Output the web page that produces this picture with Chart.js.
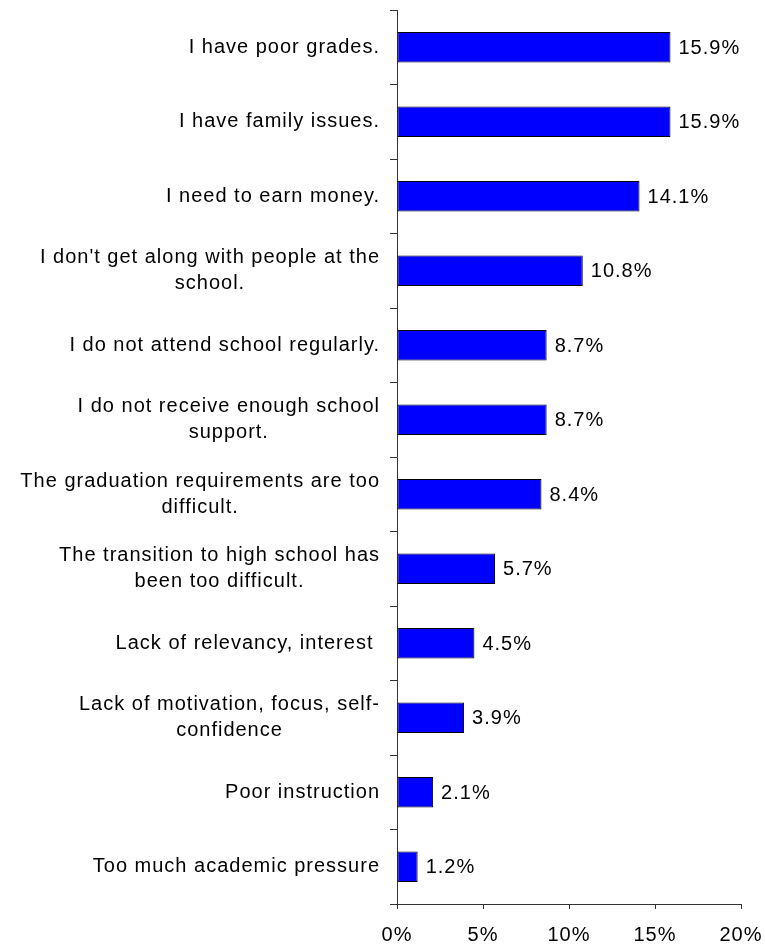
<!DOCTYPE html>
<html>
<head>
<meta charset="utf-8">
<script src="https://cdn.jsdelivr.net/npm/chart.js@4.4.1/dist/chart.umd.min.js"></script>
<style>
  html, body { margin: 0; padding: 0; background: #fff; overflow: hidden; }
  #wrap { width: 765px; height: 948px; position: relative; }
</style>
</head>
<body>
<div id="wrap"><canvas id="c"></canvas></div>
<script>
const categories = [
  ["I have poor grades."],
  ["I have family issues."],
  ["I need to earn money."],
  ["I don't get along with people at the", "school."],
  ["I do not attend school regularly."],
  ["I do not receive enough school", "support."],
  ["The graduation requirements are too", "difficult."],
  ["The transition to high school has", "been too difficult."],
  ["Lack of relevancy, interest "],
  ["Lack of motivation, focus, self-", "confidence"],
  ["Poor instruction"],
  ["Too much academic pressure"]
];
const values = [15.9, 15.9, 14.1, 10.8, 8.7, 8.7, 8.4, 5.7, 4.5, 3.9, 2.1, 1.2];
const valueLabels = ["15.9%", "15.9%", "14.1%", "10.8%", "8.7%", "8.7%", "8.4%", "5.7%", "4.5%", "3.9%", "2.1%", "1.2%"];
const xTickValues = [0, 5, 10, 15, 20];

const FONT = '20px "Liberation Sans", Arial, sans-serif';
const LINE_H = 26.3;

const labelPlugin = {
  id: 'customLabels',
  beforeDraw(chart) {
    chart.ctx.letterSpacing = '1px';
  },
  afterDatasetsDraw(chart) {
    const ctx = chart.ctx;
    const yScale = chart.scales.y;
    const meta = chart.getDatasetMeta(0);
    ctx.save();
    ctx.letterSpacing = '1px';
    ctx.font = FONT;
    ctx.fillStyle = '#000';
    ctx.textBaseline = 'alphabetic';
    const rightEdge = chart.chartArea.left - 17;
    categories.forEach((lines, i) => {
      const c = yScale.getPixelForValue(i);
      let maxW = 0;
      lines.forEach(l => { maxW = Math.max(maxW, ctx.measureText(l).width); });
      const cx = rightEdge - maxW / 2;
      ctx.textAlign = 'center';
      lines.forEach((l, k) => {
        const y = c - (lines.length - 1) * LINE_H / 2 + k * LINE_H + 5.5;
        ctx.fillText(l, cx, y);
      });
    });
    ctx.textAlign = 'left';
    meta.data.forEach((bar, i) => {
      ctx.fillText(valueLabels[i], bar.x + 8, bar.y + 6.5);
    });
    ctx.restore();
  }
};

new Chart(document.getElementById('c'), {
  type: 'bar',
  data: {
    labels: categories,
    datasets: [{
      data: values,
      backgroundColor: '#0000FF',
      borderColor: '#000000',
      borderWidth: 1,
      borderSkipped: false,
      categoryPercentage: 1,
      barPercentage: 0.41
    }]
  },
  options: {
    indexAxis: 'y',
    responsive: true,
    maintainAspectRatio: false,
    animation: false,
    events: [],
    layout: { padding: { top: 10, right: 24, left: 0, bottom: 0 } },
    plugins: { legend: { display: false }, tooltip: { enabled: false } },
    scales: {
      x: {
        type: 'linear',
        min: 0,
        max: 20,
        afterBuildTicks(s) { s.ticks = xTickValues.map(v => ({ value: v })); },
        afterFit(s) { s.height = 44; s.paddingLeft = 0; s.paddingRight = 0; },
        ticks: {
          callback: v => v + '%',
          font: { family: '"Liberation Sans", Arial, sans-serif', size: 20 },
          color: '#000',
          padding: 14,
          maxRotation: 0
        },
        grid: { drawOnChartArea: false, drawTicks: true, tickLength: 5, color: '#333' },
        border: { display: true, color: '#333', width: 1 }
      },
      y: {
        type: 'category',
        offset: true,
        afterFit(s) { s.width = 397; s.paddingTop = 0; s.paddingBottom = 0; },
        ticks: { display: false },
        grid: { offset: true, drawOnChartArea: false, drawTicks: true, tickLength: 7, color: '#333' },
        border: { display: true, color: '#333', width: 1 }
      }
    }
  },
  plugins: [labelPlugin]
});
</script>
</body>
</html>
